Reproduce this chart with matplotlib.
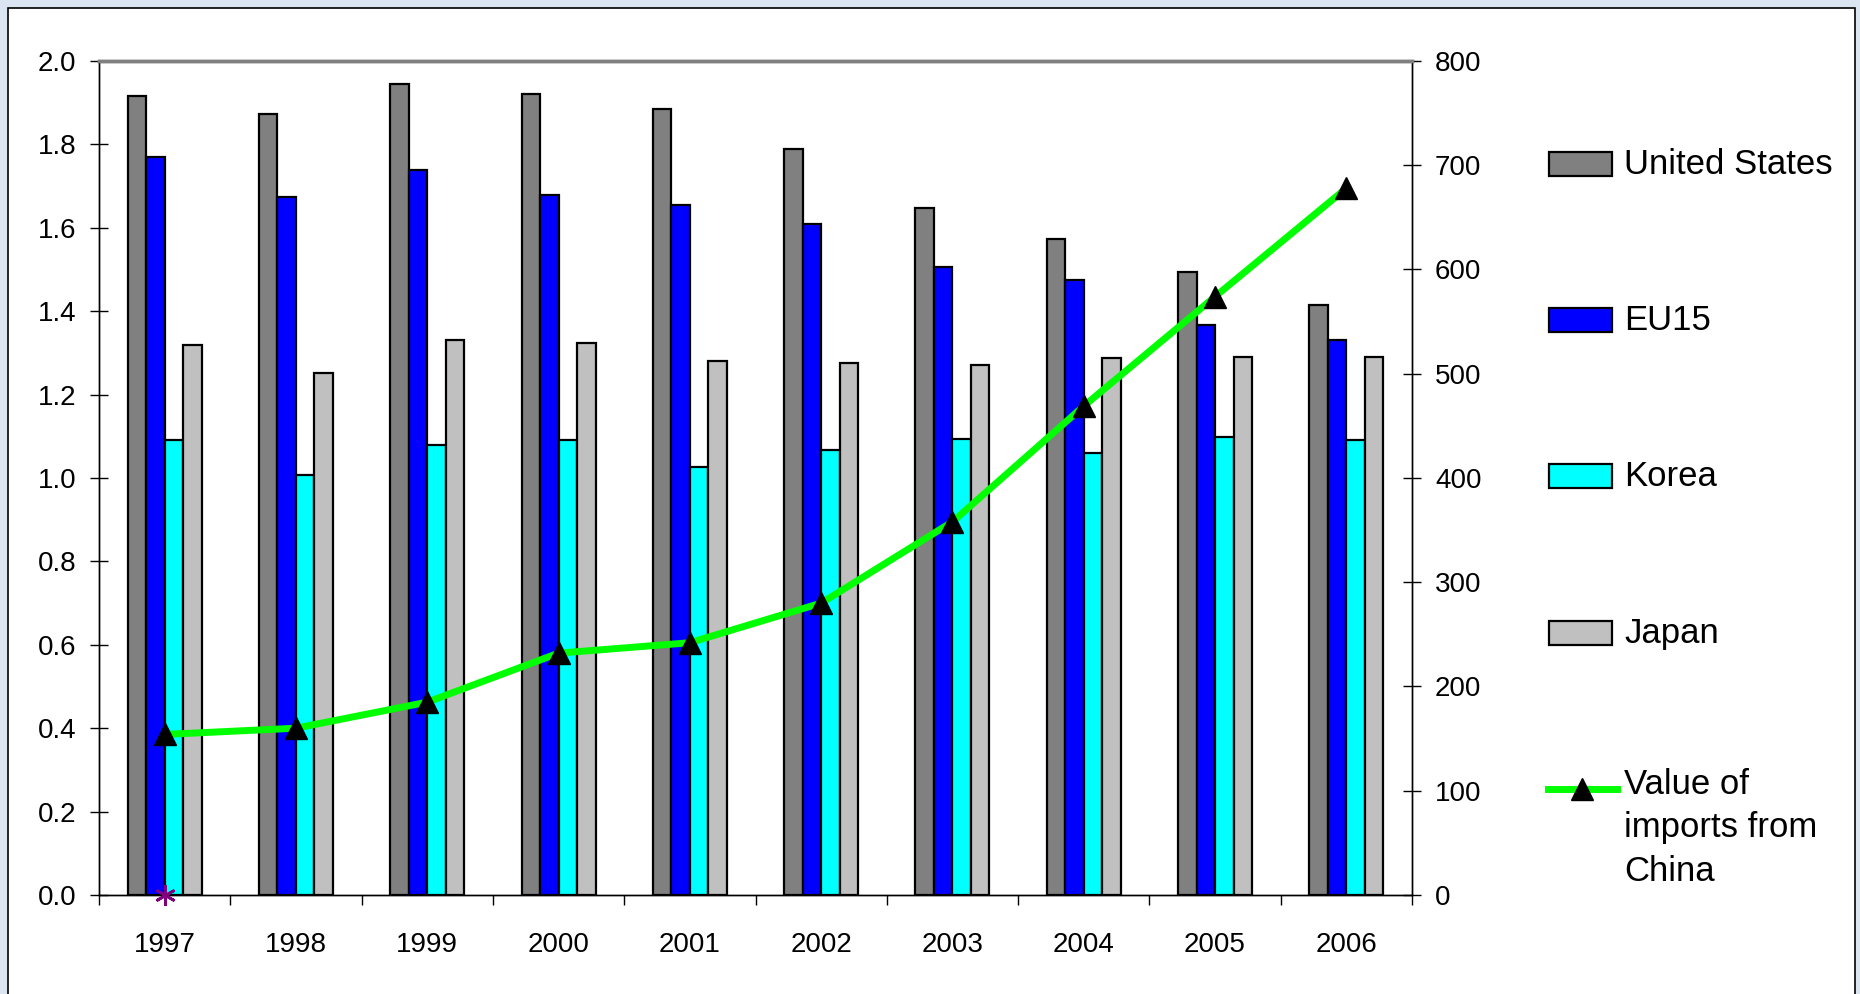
import numpy as np
import matplotlib.pyplot as plt
from matplotlib.patches import Rectangle
from matplotlib.lines import Line2D

plt.rcParams['font.family'] = ['Liberation Sans', 'DejaVu Sans']

years = ['1997', '1998', '1999', '2000', '2001', '2002', '2003', '2004', '2005', '2006']
united_states = [1.915, 1.874, 1.946, 1.922, 1.885, 1.788, 1.647, 1.574, 1.494, 1.414]
eu15 = [1.769, 1.673, 1.739, 1.678, 1.654, 1.610, 1.507, 1.476, 1.366, 1.330]
korea = [1.092, 1.007, 1.080, 1.092, 1.026, 1.068, 1.093, 1.061, 1.098, 1.092]
japan = [1.318, 1.251, 1.330, 1.324, 1.281, 1.275, 1.270, 1.287, 1.290, 1.290]
imports_china = [154, 160, 185, 232, 242, 280, 358, 469, 574, 678]
# stray marker sitting on the axis under 1997
stray_x = [0]
stray_y = [0]

bar_series = [('United States', united_states, '#808080'),
              ('EU15', eu15, '#0000ff'),
              ('Korea', korea, '#00ffff'),
              ('Japan', japan, '#c0c0c0')]
line_label = 'Value of\nimports from\nChina'

W, H = 1860, 994
fig = plt.figure(figsize=(W / 100, H / 100), dpi=100, facecolor='#dbe4f1')
fig.patches.append(Rectangle((8 / W, -0.05), (1855 - 8) / W, 1.05 - 8 / H,
                             transform=fig.transFigure, facecolor='white',
                             edgecolor='black', lw=1.2, zorder=-10))

ax = fig.add_axes([99 / W, 1 - 895 / H, (1412 - 99) / W, (895 - 61) / H])
ax2 = ax.twinx()

x = np.arange(len(years))
w = 0.141
for i, (name, vals, col) in enumerate(bar_series):
    ax.bar(x + (i - 1.5) * w, vals, w, color=col, edgecolor='black', linewidth=1.6, zorder=2)

ax2.plot(x, imports_china, color='#00ff00', lw=5, marker='^', ms=16,
         mfc='black', mec='black', zorder=3)
ax2.plot(stray_x, stray_y, ls='none', marker=(6, 2, 0), ms=15, mew=2,
         color='#800080', clip_on=False, zorder=5)

ax.set_xlim(-0.5, len(years) - 0.5)
ax.set_ylim(0, 2)
ax.set_yticks(np.arange(0, 2.01, 0.2))
ax.set_yticklabels([f"{v:.1f}" for v in np.arange(0, 2.01, 0.2)])
ax.set_xticks(x)
ax.set_xticklabels(years)
ax.set_xticks(np.arange(-0.5, len(years), 1), minor=True)
ax.tick_params(axis='x', which='major', length=0, pad=27, labelsize=20)
ax.tick_params(axis='x', which='minor', length=7, width=1, direction='out')
ax.tick_params(axis='y', direction='inout', length=13, width=1, pad=10, labelsize=20)

ax2.set_ylim(0, 800)
ax2.set_yticks(np.arange(0, 801, 100))
ax2.tick_params(axis='y', direction='inout', length=13, width=1, pad=10, labelsize=20)

for a in (ax, ax2):
    a.spines['top'].set_color('#808080')
    a.spines['top'].set_linewidth(2.5)
    for s in ('left', 'right', 'bottom'):
        a.spines[s].set_color('black')
        a.spines[s].set_linewidth(1)

# legend drawn by hand so the line entry sits on the first text line
hx0, hx1 = 1549, 1612
tx = 1624
centers = [164, 320, 476, 633]
for (name, vals, col), cy in zip(bar_series, centers):
    fig.patches.append(Rectangle((hx0 / W, 1 - (cy + 12) / H), (hx1 - hx0) / W, 24 / H,
                                 transform=fig.transFigure, facecolor=col,
                                 edgecolor='black', lw=1.6))
    fig.text(tx / W, 1 - cy / H, name, fontsize=25, va='center', ha='left')

ly = 789
fig.lines.append(Line2D([1548 / W, 1617 / W], [1 - ly / H, 1 - ly / H],
                        transform=fig.transFigure, color='#00ff00', lw=5))
fig.lines.append(Line2D([1582 / W], [1 - ly / H], transform=fig.transFigure,
                        ls='none', marker='^', ms=16, mfc='black', mec='black'))
fig.text(tx / W, 1 - (ly - 21) / H, line_label, fontsize=25, va='top', ha='left',
         linespacing=1.4)

fig.savefig('out.png', dpi=100, facecolor=fig.get_facecolor())
